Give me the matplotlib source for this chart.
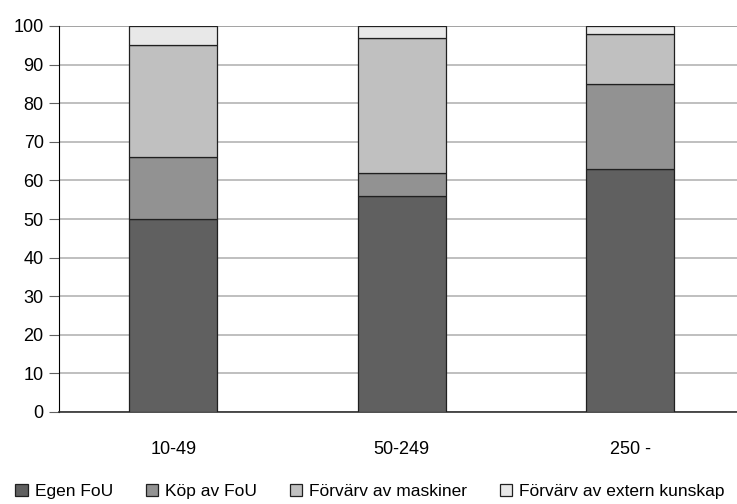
import matplotlib
matplotlib.use('Agg')
import matplotlib.pyplot as plt
import numpy as np

plt.rcParams['font.family'] = ['Liberation Sans Narrow', 'Liberation Sans', 'DejaVu Sans']

categories = ['10-49', '50-249', '250 -']
egen_fou = [50, 56, 63]
kop_fou = [16, 6, 22]
maskiner = [29, 35, 13]
extern = [5, 3, 2]

labels = ['Egen FoU', 'Köp av FoU', 'Förvärv av maskiner', 'Förvärv av extern kunskap']
colors = ['#606060', '#929292', '#c0c0c0', '#e8e8e8']

fig = plt.figure(figsize=(7.37, 5.04), dpi=100)
ax = fig.add_axes([59 / 737, 92 / 504, 685.5 / 737, 386 / 504])

x = np.arange(len(categories))
bottom = np.zeros(len(categories))
handles = []
for vals, lab, col in zip([egen_fou, kop_fou, maskiner, extern], labels, colors):
    b = ax.bar(x, vals, 0.385, bottom=bottom, color=col, edgecolor='#202020',
               linewidth=0.9, label=lab, zorder=3)
    handles.append(b)
    bottom += np.array(vals)

ax.set_xlim(-0.5, 2.5)
ax.set_ylim(0, 100)
ax.set_yticks(range(0, 101, 10))
ax.yaxis.grid(True, color='#b4b4b4', linewidth=1.2, zorder=0)
ax.axhline(100, color='#404040', linewidth=1.2, zorder=1)

for s in ['top', 'right']:
    ax.spines[s].set_visible(False)
ax.spines['left'].set_color('black')
ax.spines['bottom'].set_color('#303030')
ax.spines['bottom'].set_linewidth(1.2)

ax.set_xticks(x)
ax.set_xticklabels(categories)
ax.tick_params(axis='x', length=0, pad=21, labelsize=13)
ax.tick_params(axis='y', length=7, color='#606060', pad=4, labelsize=13)

fig.legend(handles=handles, loc='lower center', bbox_to_anchor=(0.502, -0.022), ncol=4,
           frameon=False, fontsize=12.5, handlelength=0.7, handleheight=0.7,
           handletextpad=0.4, columnspacing=1.9)

fig.savefig('out.png', dpi=100)
